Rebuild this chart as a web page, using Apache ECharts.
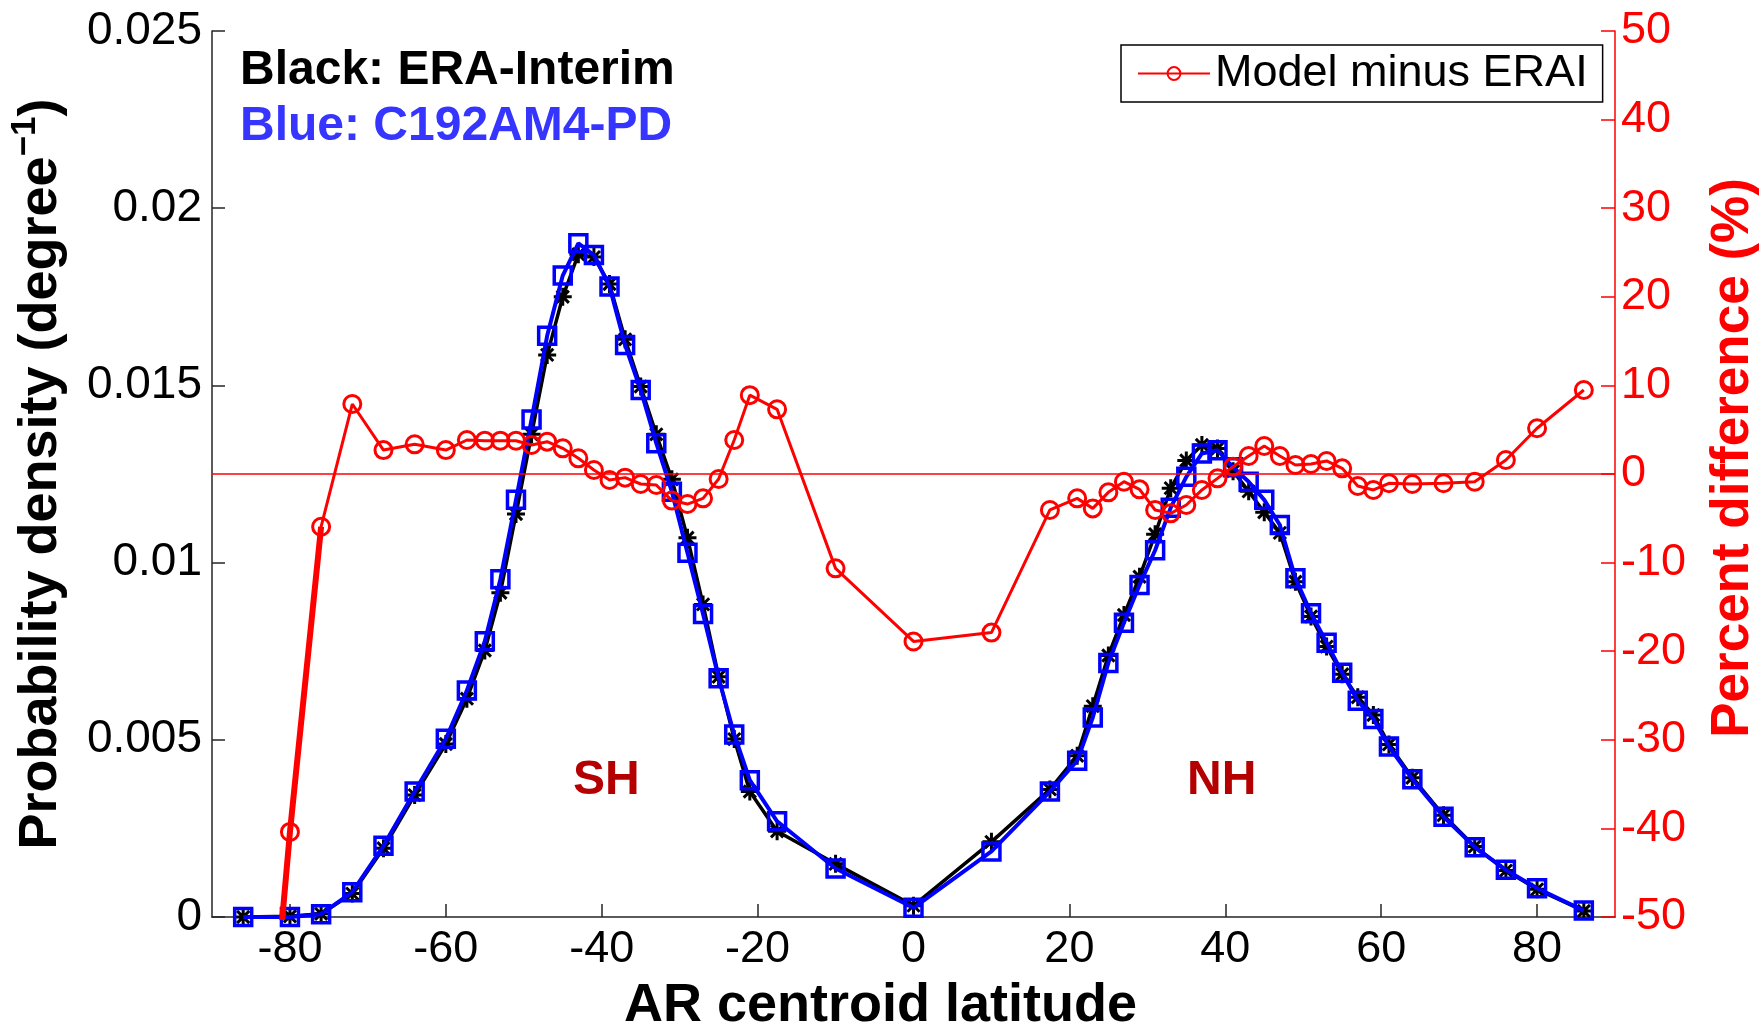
<!DOCTYPE html>
<html>
<head>
<meta charset="utf-8">
<title>AR centroid latitude</title>
<script src="https://cdn.jsdelivr.net/npm/echarts@6/dist/echarts.min.js"></script>
<style>
  html, body { margin: 0; padding: 0; background: #fff; }
  #chart { width: 1762px; height: 1028px; }
</style>
</head>
<body>
<div id="chart"></div>
<script>
// latitude bins (degrees)
var lat = [-86, -80, -76, -72, -68, -64, -60, -57.3, -55, -53, -51, -49, -47, -45, -43, -41, -39, -37, -35, -33,
  -31, -29, -27, -25, -23, -21, -17.5, -10, 0, 10, 17.5, 21, 23, 25, 27, 29, 31, 33, 35, 37,
  39, 41, 43, 45, 47, 49, 51, 53, 55, 57, 59, 61, 64, 68, 72, 76, 80, 86];

// ERA-Interim probability density (black)
var eraInterim = [0, 0.00002, 0.00009, 0.00066, 0.00194, 0.00344, 0.00488, 0.00616, 0.00752, 0.00915,
  0.01137, 0.01362, 0.01586, 0.0175, 0.0187, 0.01862, 0.01786, 0.0163, 0.01497, 0.01362,
  0.01235, 0.0107, 0.00882, 0.00678, 0.00502, 0.00354, 0.00242, 0.0015, 0.00032, 0.00212,
  0.0036, 0.00455, 0.00595, 0.00738, 0.00852, 0.0096, 0.0108, 0.0121, 0.01288, 0.01332,
  0.01322, 0.01258, 0.01201, 0.01142, 0.01084, 0.00946, 0.00848, 0.00763, 0.00685, 0.0062,
  0.0057, 0.00487, 0.00393, 0.00287, 0.00199, 0.00131, 0.00078, 0.00017];

// C192AM4-PD probability density (blue)
var c192 = [0, 0, 0.00008, 0.0007, 0.00201, 0.00354, 0.00503, 0.00639, 0.00778, 0.00953,
  0.01177, 0.01404, 0.0164, 0.0181, 0.01901, 0.01868, 0.01779, 0.01614, 0.01487, 0.01337,
  0.012, 0.01028, 0.00855, 0.00674, 0.00515, 0.00386, 0.0027, 0.00137, 0.00026, 0.00185,
  0.00354, 0.00441, 0.00563, 0.00717, 0.0083, 0.00937, 0.01035, 0.01155, 0.01242, 0.01308,
  0.01317, 0.01269, 0.01228, 0.01177, 0.01106, 0.00956, 0.00857, 0.00774, 0.00689, 0.0061,
  0.00559, 0.00481, 0.00389, 0.00283, 0.00197, 0.00133, 0.00081, 0.00018];

// model minus ERAI (%), right axis
var pctDiff = [-100, -40.4, -5.95, 7.9, 2.7, 3.35, 2.7, 3.84, 3.76, 3.76,
  3.76, 3.27, 3.65, 2.9, 1.77, 0.45, -0.68, -0.41, -1.13, -1.24,
  -3.0, -3.39, -2.75, -0.56, 3.84, 8.9, 7.3, -10.65, -18.9, -17.9,
  -4.06, -2.75, -3.88, -2.07, -0.87, -1.73, -4.06, -4.44, -3.5, -1.8,
  -0.49, 0.83, 2.03, 3.16, 2.03, 1.02, 1.13, 1.47, 0.64, -1.35,
  -1.8, -1.05, -1.13, -1.05, -0.87, 1.58, 5.16, 9.48];

// tick labels
var xTicks = [-80, -60, -40, -20, 0, 20, 40, 60, 80];
var leftTicks = ['0', '0.005', '0.01', '0.015', '0.02', '0.025'];

function pairs(xs, ys) {
  var out = [];
  for (var i = 0; i < xs.length; i++) {
    out.push([xs[i], ys[i]]);
  }
  return out;
}

var FONT = "'Liberation Sans', Arial, Helvetica, sans-serif";
var ASTERISK = 'path://M5,0L5,10M0,5L10,5M1.6,1.6L8.4,8.4M1.6,8.4L8.4,1.6';

var myChart = echarts.init(document.getElementById('chart'));
myChart.setOption({
  animation: false,
  backgroundColor: '#fff',
  textStyle: { fontFamily: FONT },
  grid: {
    left: 212,
    right: 147,
    top: 31,
    bottom: 111,
    containLabel: false,
    outerBoundsMode: 'none'
  },
  legend: {
    data: ['Model minus ERAI'],
    left: 1121,
    top: 45,
    orient: 'horizontal',
    itemWidth: 72,
    itemHeight: 16,
    padding: [5, 15, 5, 16],
    backgroundColor: '#fff',
    borderColor: '#000',
    borderWidth: 1.5,
    borderRadius: 0,
    textStyle: {
      fontSize: 45,
      color: '#000',
      fontFamily: FONT,
      lineHeight: 47
    }
  },
  graphic: [
    {
      type: 'text', left: 240, top: 47, silent: true,
      style: { text: 'Black: ERA-Interim', font: 'bold 48px ' + FONT, fill: '#000' }
    },
    {
      type: 'text', left: 240, top: 103, silent: true,
      style: { text: 'Blue: C192AM4-PD', font: 'bold 48px ' + FONT, fill: '#3535ff' }
    },
    {
      type: 'text', left: 573, top: 757, silent: true,
      style: { text: 'SH', font: 'bold 48px ' + FONT, fill: '#b40000' }
    },
    {
      type: 'text', left: 1187, top: 757, silent: true,
      style: { text: 'NH', font: 'bold 48px ' + FONT, fill: '#b40000' }
    }
  ],
  xAxis: {
    type: 'value',
    min: -90,
    max: 90,
    interval: 10,
    name: 'AR centroid latitude',
    nameLocation: 'middle',
    nameGap: 62,
    nameTextStyle: {
      fontSize: 54,
      fontWeight: 'bold',
      color: '#000',
      padding: [0, 66, 0, 0]
    },
    splitLine: { show: false },
    axisLine: { onZero: false, lineStyle: { color: '#262626', width: 1.5 } },
    axisTick: {
      inside: true,
      length: 13,
      customValues: xTicks,
      lineStyle: { color: '#262626', width: 1.5 }
    },
    axisLabel: {
      customValues: xTicks,
      fontSize: 45,
      color: '#000',
      margin: 10
    }
  },
  yAxis: [
    {
      type: 'value',
      position: 'left',
      min: 0,
      max: 0.025,
      interval: 0.005,
      name: 'Probability density (degree{sup|−1})',
      nameLocation: 'middle',
      nameRotate: 90,
      nameGap: 137,
      nameTextStyle: {
        fontSize: 54,
        fontWeight: 'bold',
        color: '#000',
        rich: {
          sup: { fontSize: 35, fontWeight: 'bold', color: '#000', padding: [0, 0, 32, 0] }
        }
      },
      splitLine: { show: false },
      axisLine: { show: true, onZero: false, lineStyle: { color: '#262626', width: 1.5 } },
      axisTick: { show: true, inside: true, length: 13, lineStyle: { color: '#262626', width: 1.5 } },
      axisLabel: {
        fontSize: 46,
        color: '#000',
        margin: 10,
        formatter: function (v) {
          return leftTicks[Math.round(v / 0.005)];
        }
      }
    },
    {
      type: 'value',
      position: 'right',
      min: -50,
      max: 50,
      interval: 10,
      name: 'Percent difference (%)',
      nameLocation: 'middle',
      nameRotate: 90,
      nameGap: 92,
      nameTextStyle: {
        fontSize: 53,
        fontWeight: 'bold',
        color: '#ff0000',
        padding: [0, 0, 0, 32]
      },
      splitLine: { show: false },
      axisLine: { show: true, onZero: false, lineStyle: { color: '#ff0000', width: 1.5 } },
      axisTick: { show: true, inside: true, length: 14, lineStyle: { color: '#ff0000', width: 1.5 } },
      axisLabel: { fontSize: 45, color: '#ff0000', margin: 6 }
    }
  ],
  series: [
    {
      // ERA-Interim
      name: 'ERA-Interim',
      type: 'line',
      yAxisIndex: 0,
      data: pairs(lat, eraInterim),
      symbol: ASTERISK,
      symbolSize: 18,
      itemStyle: { color: '#000', borderColor: '#000', borderWidth: 3 },
      lineStyle: { color: '#000', width: 3.5 },
      z: 2
    },
    {
      // model
      name: 'C192AM4-PD',
      type: 'line',
      yAxisIndex: 0,
      data: pairs(lat, c192),
      symbol: 'rect',
      symbolSize: 17,
      itemStyle: { color: 'transparent', borderColor: '#0000ff', borderWidth: 3.5 },
      lineStyle: { color: '#0000ff', width: 4 },
      z: 3
    },
    {
      // thicker start of the difference curve
      name: 'diff-start',
      type: 'line',
      yAxisIndex: 1,
      data: pairs(lat.slice(0, 3), pctDiff.slice(0, 3)),
      symbol: 'none',
      lineStyle: { color: '#ff0000', width: 6 },
      silent: true,
      z: 4
    },
    {
      name: 'Model minus ERAI',
      type: 'line',
      yAxisIndex: 1,
      data: pairs(lat, pctDiff),
      symbol: 'circle',
      symbolSize: 17,
      itemStyle: { color: 'transparent', borderColor: '#ff0000', borderWidth: 3 },
      lineStyle: { color: '#ff0000', width: 3 },
      markLine: {
        silent: true,
        symbol: 'none',
        label: { show: false },
        lineStyle: { color: '#ff0000', width: 1.5, type: 'solid' },
        data: [{ yAxis: 0 }]
      },
      z: 5
    }
  ]
});
</script>
</body>
</html>
